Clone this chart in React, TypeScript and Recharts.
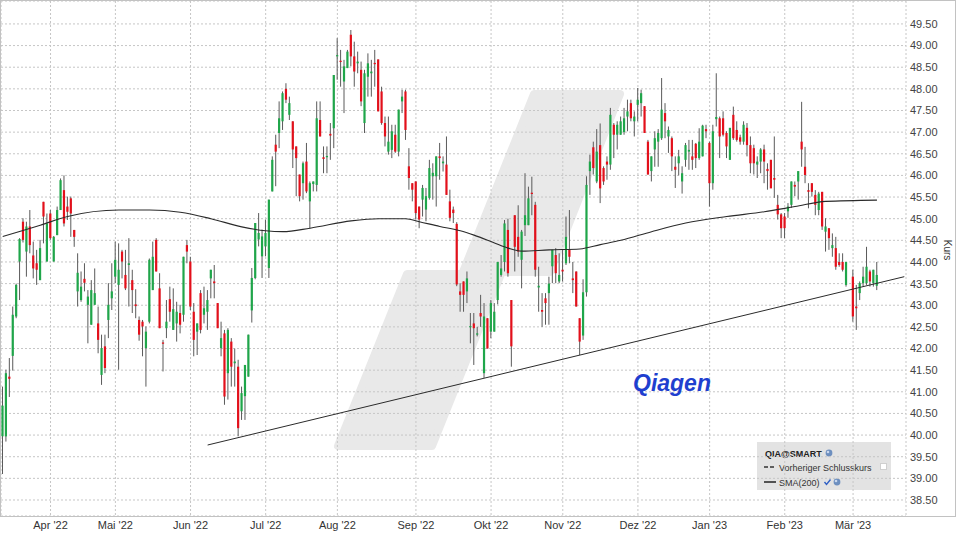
import { ComposedChart, Bar, Line, XAxis, YAxis, CartesianGrid } from 'recharts';

// daily candles [open, high, low, close], one per trading day, null = no candle
const ohlc: ([number, number, number, number] | null)[] = [
  [39.97, 41.12, 39.1, 40.68], [39.97, 41.51, 39.85, 41.43], [41.35, 41.78, 40.88, 41.3], [41.83, 42.97, 41.49, 42.78], [42.74, 43.5, 42.7, 43.47],
  [44.01, 44.55, 43.12, 44.53], [44.93, 45.01, 44.45, 44.51], [44.24, 44.93, 43.66, 44.82], [44.82, 45.2, 44.2, 44.39], [44.15, 44.47, 43.62, 43.85],
  [43.97, 44.28, 43.47, 43.82], [43.58, 44.51, 43.58, 44.32], [45.39, 45.39, 44.43, 45.05], [44.01, 45.12, 44.01, 44.89], [45.12, 45.2, 44.51, 44.55],
  [44.01, 44.6, 44.01, 44.58], [44.62, 45.28, 44.62, 45.2], [45.2, 45.93, 45.2, 45.89], [45.66, 46.0, 44.82, 44.89], [45.28, 45.51, 44.97, 45.16],
  [45.47, 45.51, 44.58, 45.12], [44.74, 44.74, 44.35, 44.58], [43.32, 44.2, 42.97, 43.75], [43.12, 43.78, 43.08, 43.43], [43.61, 43.97, 43.32, 43.52],
  [43.01, 43.35, 42.12, 43.2], [42.55, 43.58, 42.55, 43.35], [43.01, 43.85, 43.01, 43.28], [42.58, 42.97, 41.89, 42.2], [41.39, 42.32, 41.16, 42.01],
  [42.05, 42.32, 41.43, 41.55], [42.66, 43.51, 42.24, 43.01], [43.16, 43.97, 42.89, 43.32], [43.66, 44.47, 43.51, 44.05], [43.47, 44.43, 41.51, 43.82],
  [44.24, 44.28, 43.62, 44.01], [43.7, 44.28, 43.35, 43.39], [43.93, 44.55, 42.97, 43.97], [43.58, 43.82, 42.82, 43.35], [43.02, 43.37, 42.7, 42.98],
  [42.66, 42.74, 42.18, 42.32], [42.62, 42.66, 41.82, 42.51], [42.01, 42.51, 41.12, 42.39], [42.62, 44.08, 42.58, 44.05], [43.35, 44.47, 43.35, 44.12],
  [44.51, 44.55, 43.78, 43.78], [43.39, 43.74, 42.47, 42.47], [42.14, 42.2, 41.47, 42.11], [42.47, 43.12, 42.24, 42.62], [43.14, 43.43, 42.62, 42.85],
  [42.43, 43.39, 42.43, 42.91], [42.58, 43.08, 42.16, 42.85], [42.82, 43.01, 42.35, 42.55], [42.78, 44.12, 42.62, 44.12], [44.39, 44.51, 43.97, 44.24],
  [44.01, 44.12, 42.89, 42.97], [42.85, 43.05, 41.82, 42.2], [42.39, 42.58, 41.85, 42.58], [43.28, 43.35, 42.35, 42.43], [42.78, 43.43, 42.58, 42.93],
  [42.85, 43.35, 42.43, 43.12], [43.62, 43.82, 43.16, 43.82], [43.55, 43.93, 43.16, 43.51], [43.05, 43.05, 42.47, 42.47], [42.01, 42.62, 41.82, 42.24],
  [42.35, 42.43, 40.7, 40.89], [41.43, 42.47, 40.82, 42.43], [42.16, 42.24, 41.12, 41.58], [41.66, 42.0, 41.12, 41.7], [41.58, 41.74, 39.97, 40.16],
  [40.55, 41.12, 40.35, 40.97], [40.9, 41.62, 40.35, 41.62], [41.35, 42.32, 41.35, 42.32], [42.88, 43.86, 42.6, 43.63], [43.63, 44.9, 43.6, 44.9],
  [44.52, 45.13, 44.36, 44.67], [44.13, 44.75, 43.63, 44.59], [44.36, 44.98, 44.13, 44.67], [43.86, 45.44, 43.63, 45.44], [45.63, 46.44, 45.63, 46.36],
  [46.71, 46.94, 45.75, 46.55], [46.98, 47.71, 46.63, 47.32], [47.25, 47.94, 47.05, 47.9], [48.0, 48.13, 47.67, 47.75], [47.4, 47.82, 47.28, 47.67],
  [47.25, 47.25, 46.17, 46.6], [46.67, 46.67, 45.52, 46.4], [46.02, 46.02, 45.4, 45.52], [45.82, 46.32, 45.44, 46.28], [46.32, 46.75, 45.59, 45.63],
  [45.4, 45.86, 44.78, 45.82], [45.8, 45.86, 45.63, 45.86], [45.78, 47.71, 45.63, 47.32], [47.28, 47.71, 46.9, 46.9], [46.42, 46.67, 46.05, 46.38],
  [46.42, 46.67, 46.05, 46.45], [46.96, 47.21, 46.36, 46.92], [47.09, 48.32, 46.63, 48.32], [48.75, 49.17, 48.21, 48.78], [48.65, 48.9, 48.05, 48.62],
  [48.17, 48.67, 47.44, 48.52], [48.48, 48.9, 48.48, 48.86], [49.25, 49.36, 48.52, 48.75], [48.75, 49.09, 48.05, 48.4], [48.59, 48.86, 48.36, 48.63],
  [48.44, 48.63, 47.6, 47.71], [47.21, 48.44, 46.98, 48.36], [48.28, 48.82, 47.82, 48.59], [48.36, 48.67, 47.82, 48.4], [48.6, 48.9, 48.05, 48.57],
  [48.68, 48.68, 47.48, 47.48], [47.94, 48.05, 47.17, 47.21], [47.21, 47.36, 46.67, 46.9], [46.55, 47.36, 46.48, 46.78], [46.59, 47.17, 46.4, 47.02],
  [46.94, 47.17, 46.52, 46.55], [46.55, 47.52, 46.44, 47.52], [47.71, 47.98, 47.44, 47.82], [47.94, 47.98, 46.82, 47.05], [46.21, 46.63, 45.67, 45.94],
  [45.82, 45.82, 45.4, 45.67], [45.86, 45.86, 44.98, 45.13], [45.28, 45.28, 44.78, 44.98], [45.44, 45.78, 45.05, 45.71], [45.21, 45.71, 44.94, 45.52],
  [45.48, 46.36, 45.44, 46.17], [45.98, 46.28, 45.44, 46.06], [45.98, 46.44, 45.28, 46.44], [46.44, 46.75, 45.9, 46.4], [46.28, 46.44, 46.09, 46.32],
  [46.25, 46.9, 45.55, 45.55], [45.4, 45.67, 44.94, 45.02], [45.21, 45.28, 44.9, 45.13], [44.88, 44.92, 43.44, 43.48], [43.32, 43.51, 42.85, 43.24],
  [43.55, 43.55, 42.85, 43.24], [43.32, 43.78, 43.05, 43.62], [42.49, 42.82, 42.12, 42.52], [42.58, 42.82, 41.62, 42.47], [42.32, 42.5, 42.28, 42.35],
  [42.82, 43.24, 42.5, 42.74], [41.43, 43.05, 41.32, 42.74], [42.7, 42.7, 42.0, 42.0], [42.39, 43.12, 42.24, 43.05], [42.39, 43.05, 42.39, 42.85],
  [43.12, 44.0, 43.02, 44.0], [43.7, 44.16, 43.66, 43.85], [44.0, 44.97, 43.78, 44.89], [44.74, 45.0, 43.66, 43.74], [43.12, 43.12, 41.58, 42.05],
  [45.08, 45.08, 43.78, 44.35], [44.58, 45.31, 44.12, 44.24], [44.05, 44.74, 43.39, 44.7], [44.85, 46.05, 44.6, 45.08], [44.85, 45.74, 44.85, 45.47],
  [45.6, 45.97, 45.08, 45.57], [45.32, 45.39, 43.66, 43.82], [43.41, 43.89, 42.85, 43.45], [42.89, 43.28, 42.5, 42.85], [43.16, 43.28, 42.55, 43.05],
  [43.28, 43.66, 42.55, 43.5], [43.9, 44.28, 43.51, 44.28], [44.16, 44.32, 43.51, 43.74], [43.55, 44.2, 43.51, 43.7], [43.82, 44.28, 43.55, 43.78],
  [43.97, 45.05, 43.93, 44.58], [44.28, 45.2, 43.97, 44.12], [43.62, 44.0, 43.28, 43.58], [43.78, 43.78, 42.97, 42.97], [42.7, 42.7, 41.85, 42.16],
  [42.3, 43.6, 42.2, 43.3], [43.3, 45.98, 43.2, 45.78], [46.1, 46.48, 45.55, 46.32], [46.65, 46.78, 46.02, 46.17], [45.86, 47.07, 45.82, 46.55],
  [46.7, 47.2, 45.36, 45.7], [46.17, 46.21, 45.78, 45.86], [46.32, 46.44, 45.9, 46.25], [46.25, 47.56, 46.13, 47.4], [47.17, 47.21, 46.4, 46.94],
  [46.94, 47.25, 46.6, 47.17], [46.94, 47.36, 46.94, 47.25], [47.0, 47.56, 46.94, 47.32], [47.36, 47.75, 47.02, 47.48], [47.67, 47.75, 47.25, 47.32],
  [47.25, 47.48, 46.9, 47.36], [47.63, 48.02, 47.25, 47.75], [47.67, 47.98, 47.36, 47.9], [47.6, 47.6, 46.98, 46.98], [46.78, 46.82, 46.02, 46.02],
  [46.1, 46.44, 45.86, 46.44], [46.6, 47.02, 46.2, 46.86], [46.78, 47.07, 46.2, 46.98], [46.86, 48.25, 46.82, 47.52], [47.44, 47.67, 46.86, 47.25],
  [46.9, 47.13, 46.52, 47.05], [46.86, 46.9, 46.1, 46.44], [46.2, 46.44, 45.71, 46.13], [46.28, 46.59, 46.0, 46.44], [45.86, 46.21, 45.58, 46.05],
  [46.36, 46.75, 46.2, 46.7], [46.55, 46.82, 46.13, 46.59], [46.44, 46.82, 46.13, 46.36], [46.73, 46.75, 46.17, 46.4], [46.4, 47.09, 46.36, 46.78],
  [46.44, 47.17, 46.44, 47.15], [47.07, 47.17, 46.86, 47.02], [46.75, 46.78, 45.28, 45.82], [45.82, 47.17, 45.67, 47.02], [47.3, 48.36, 47.13, 47.35],
  [47.32, 47.36, 46.4, 46.9], [47.32, 47.48, 46.9, 46.94], [46.98, 47.02, 46.4, 46.67], [46.36, 47.09, 46.36, 47.1], [47.4, 47.59, 46.82, 46.86],
  [47.05, 47.25, 46.78, 46.82], [46.88, 46.94, 46.71, 46.78], [46.78, 47.25, 46.71, 47.17], [47.1, 47.21, 46.44, 46.7], [46.7, 46.9, 46.05, 46.28],
  [46.63, 46.71, 46.02, 46.28], [46.25, 46.44, 45.94, 46.32], [46.32, 46.63, 46.05, 46.6], [46.6, 46.71, 45.82, 46.32], [46.15, 46.28, 45.67, 46.1],
  [46.36, 46.36, 45.71, 45.7], [45.94, 46.9, 45.48, 45.9], [45.32, 45.55, 44.98, 45.1], [45.1, 45.13, 44.55, 44.78], [45.05, 45.13, 44.55, 44.78],
  [45.17, 45.36, 45.02, 45.28], [45.32, 45.86, 45.25, 45.86], [45.78, 45.86, 45.52, 45.74], [45.86, 46.09, 45.44, 46.1], [46.78, 47.7, 46.2, 46.6],
  [46.2, 46.66, 45.82, 46.01], [45.66, 45.82, 45.24, 45.62], [45.82, 45.82, 45.51, 45.62], [45.55, 45.66, 45.08, 45.32], [45.2, 45.62, 45.08, 45.58],
  [45.62, 45.62, 44.74, 44.82], [44.7, 45.01, 44.24, 44.82], [44.78, 44.78, 44.28, 44.55], [44.32, 44.66, 44.12, 44.39], [44.32, 44.58, 43.82, 43.89],
  [44.0, 44.2, 43.89, 43.93], [44.0, 44.2, 43.78, 43.82], [43.47, 44.0, 43.43, 44.0], null, [43.66, 43.82, 42.62, 42.74],
  [42.97, 43.47, 42.43, 42.93], [43.28, 43.55, 43.12, 43.51], [43.51, 43.89, 43.43, 43.66], [43.51, 44.35, 43.47, 43.89], [43.78, 43.82, 43.43, 43.55],
  [43.51, 43.82, 43.43, 43.82], [43.45, 44.0, 43.35, 43.7],
];

const SLOTS = 265; // candles plus empty room on the right

const monthIdx = [14, 33, 55, 77, 98, 121, 143, 164, 186, 207, 229, 249];
const monthLabels = ["Apr '22", "Mai '22", "Jun '22", "Jul '22", "Aug '22", "Sep '22", "Okt '22", "Nov '22", "Dez '22", "Jan '23", "Feb '23", "Mär '23"];

const smaIdx = [0, 11, 19, 34, 43, 52, 61, 70, 77, 82, 90, 102, 110, 118, 122, 128, 134, 138, 144, 148, 152, 160, 169, 175, 181, 190, 200, 212, 223, 232, 241, 256];
const smaVals = [44.59, 44.85, 45.05, 45.2, 45.2, 45.15, 45.0, 44.81, 44.72, 44.7, 44.78, 44.95, 45.0, 45.0, 44.93, 44.82, 44.72, 44.62, 44.44, 44.32, 44.25, 44.28, 44.3, 44.4, 44.5, 44.7, 44.9, 45.05, 45.16, 45.28, 45.4, 45.43];

// support line drawn on the chart
const trendIdx = [60, 264];
const trendVals = [39.77, 43.66];

const yTicks = [38.5, 39, 39.5, 40, 40.5, 41, 41.5, 42, 42.5, 43, 43.5, 44, 44.5, 45, 45.5, 46, 46.5, 47, 47.5, 48, 48.5, 49, 49.5];

const GREEN = '#1fa64a';
const RED = '#e3101b';
const FONT = '"Liberation Sans", Arial, sans-serif';

const data = Array.from({ length: SLOTS }, (_, i) => {
  const c = i < ohlc.length ? ohlc[i] : null;
  const s = smaIdx.indexOf(i);
  const t = trendIdx.indexOf(i);
  return {
    i,
    o: c ? c[0] : null,
    h: c ? c[1] : null,
    l: c ? c[2] : null,
    c: c ? c[3] : null,
    range: c ? [c[2], c[1]] : null,
    sma: s >= 0 ? smaVals[s] : null,
    trend: t >= 0 ? trendVals[t] : null,
  };
});

function Candle(props: any) {
  const { x, y, width, height, payload } = props;
  if (!payload || payload.o == null) return null;
  const { o, h, l, c } = payload;
  const top = height < 0 ? y + height : y;
  const hh = Math.abs(height);
  const k = h > l ? hh / (h - l) : 0;
  const cx = x + width / 2;
  const yo = top + (h - o) * k;
  const yc = top + (h - c) * k;
  const up = c >= o;
  return (
    <g>
      <line x1={cx} x2={cx} y1={top} y2={top + hh} stroke="#5a5a5a" strokeWidth={1} />
      <rect x={cx - 1.1} y={Math.min(yo, yc)} width={2.2} height={Math.max(1, Math.abs(yo - yc))} fill={up ? GREEN : RED} />
    </g>
  );
}

function Globe({ x, y }: { x: number; y: number }) {
  return (
    <g>
      <circle cx={x} cy={y} r={3.4} fill="#6d8fbf" />
      <circle cx={x - 1} cy={y - 1} r={1.3} fill="#c9d8ee" />
    </g>
  );
}

export default function App() {
  return (
    <div style={{ position: 'absolute', left: 0, top: 0, width: 960, height: 540, background: '#fff', fontFamily: FONT }}>
      {/* watermark, legend and axis title behind the chart */}
      <svg width={960} height={540} style={{ position: 'absolute', left: 0, top: 0 }}>
        <g fill="#e9e9e9" stroke="#e9e9e9" strokeWidth={8} strokeLinejoin="round">
          <polygon points="338,446 432,446 501,274 407,274" />
          <polygon points="463,272 550,272 620,94 534,94" />
        </g>
        <rect x={757} y={442} width={134} height={48} fill="#e3e3e3" />
        <text x={765} y={457} fontSize={9} fontWeight="bold" fill="#222">QIA@SMART</text>
        <Globe x={829} y={453} />
        <line x1={764} x2={776} y1={467} y2={467} stroke="#333" strokeWidth={1.3} strokeDasharray="4 2" />
        <text x={779} y={470.5} fontSize={9} fill="#333">Vorheriger Schlusskurs</text>
        <rect x={880.5} y={463.5} width={6} height={6} fill="#fff" stroke="#cfcfcf" />
        <line x1={764} x2={776} y1={482} y2={482} stroke="#222" strokeWidth={1.5} />
        <text x={779} y={485.5} fontSize={9} fill="#333">SMA(200)</text>
        <path d="M824.5,482 L826.5,484.5 L830.5,479.5" fill="none" stroke="#2f5fc4" strokeWidth={1.4} />
        <Globe x={837} y={482} />
        <text transform="translate(944,250) rotate(90)" textAnchor="middle" fontSize={10} fill="#333">Kurs</text>
      </svg>

      <div style={{ position: 'absolute', left: 0, top: 0 }}>
        <ComposedChart width={960} height={540} data={data} margin={{ top: 1, right: 4, bottom: 4, left: 1 }} barCategoryGap={0}>
          <CartesianGrid stroke="#c6c6c6" strokeDasharray="2 2" />
          <XAxis
            dataKey="i"
            type="category"
            ticks={monthIdx}
            interval={0}
            tickFormatter={(v: number) => monthLabels[monthIdx.indexOf(v)] ?? ''}
            height={20}
            tickLine={false}
            axisLine={false}
            tickSize={2}
            tickMargin={3}
            tick={{ fill: '#333', fontSize: 11, fontFamily: FONT }}
          />
          <YAxis
            orientation="right"
            width={50}
            domain={[38.13, 50.03]}
            allowDataOverflow
            ticks={yTicks}
            interval={0}
            tickFormatter={(v: number) => v.toFixed(2)}
            tickLine={false}
            axisLine={false}
            tickSize={2}
            tickMargin={2}
            tick={{ fill: '#444', fontSize: 11, fontFamily: FONT }}
          />
          <Bar dataKey="range" shape={<Candle />} isAnimationActive={false} />
          <Line dataKey="sma" type="monotone" connectNulls stroke="#2b2b2b" strokeWidth={1.1} dot={false} activeDot={false} isAnimationActive={false} />
          <Line dataKey="trend" type="linear" connectNulls stroke="#2b2b2b" strokeWidth={1} dot={false} activeDot={false} isAnimationActive={false} />
        </ComposedChart>
      </div>

      <svg width={960} height={540} style={{ position: 'absolute', left: 0, top: 0, pointerEvents: 'none' }}>
        <rect x={0.5} y={0.5} width={955} height={516} fill="none" stroke="#c2c2c2" />
        <text x={633} y={391} fontSize={23} fontWeight="bold" fontStyle="italic" fill="#1f3fcf">Qiagen</text>
      </svg>
    </div>
  );
}
